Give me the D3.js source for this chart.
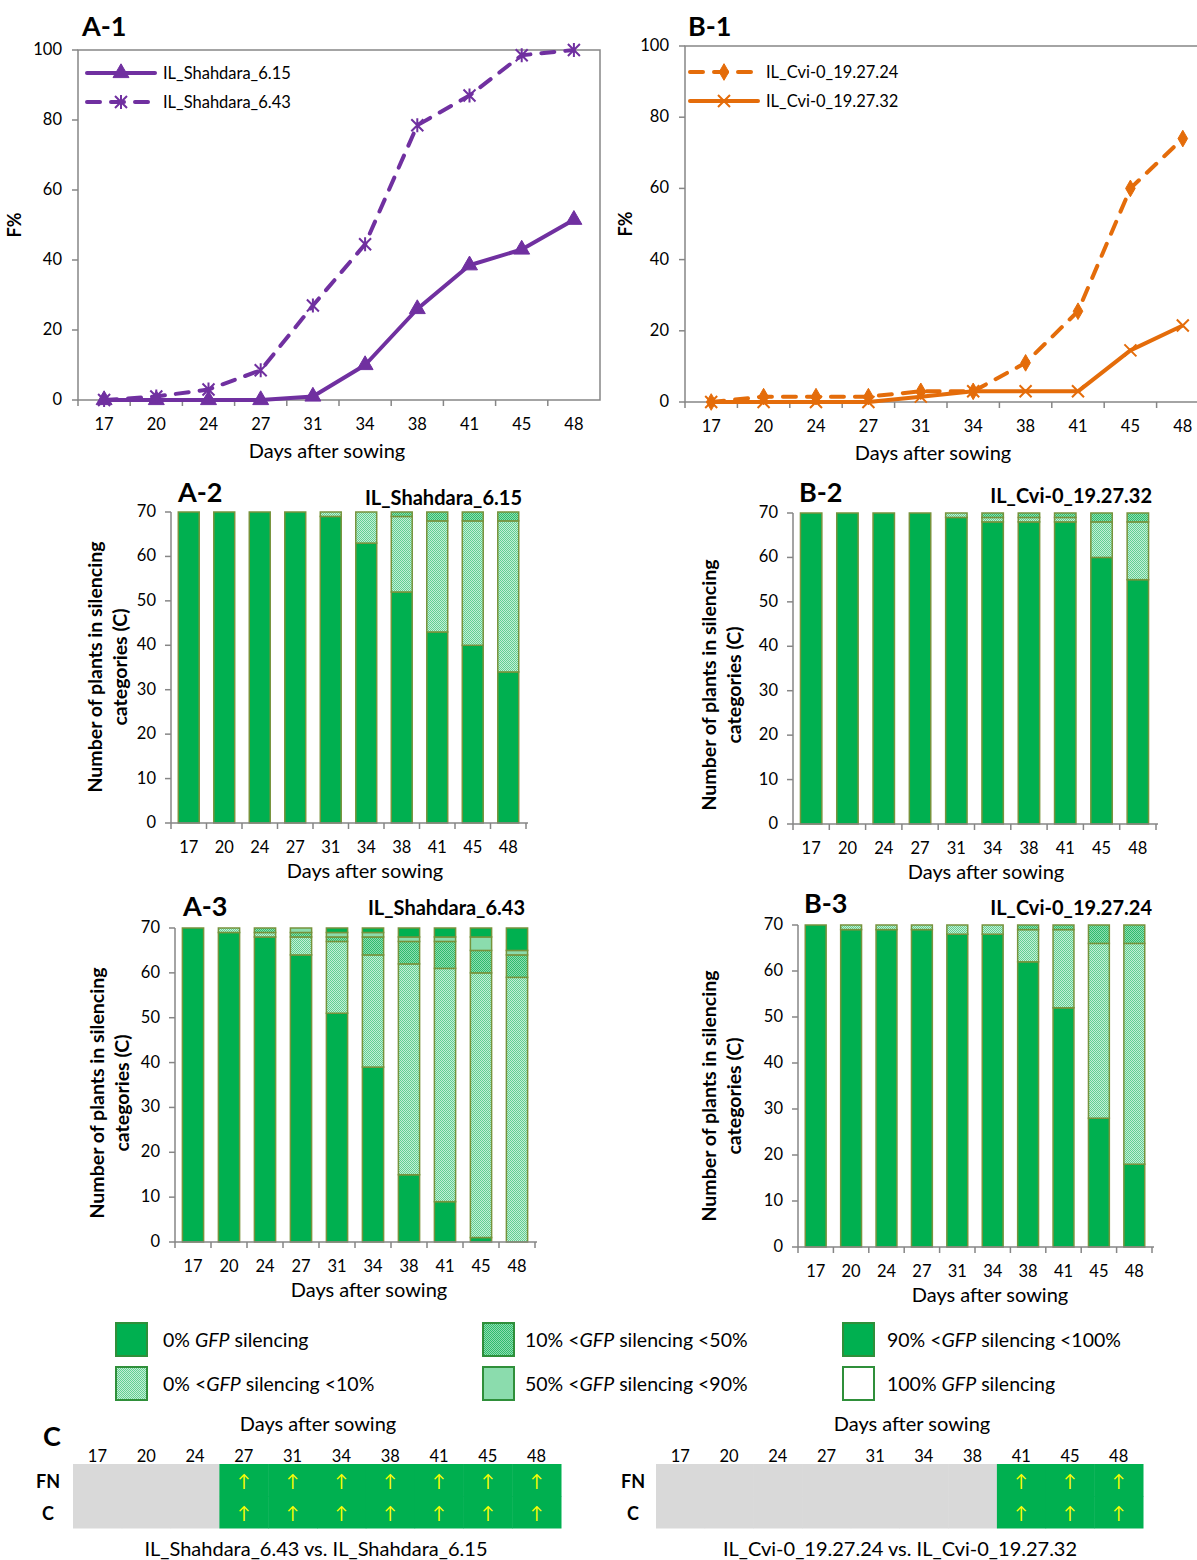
<!DOCTYPE html>
<html><head><meta charset="utf-8">
<script src="https://cdn.jsdelivr.net/npm/d3@7"></script>
<style>
body{margin:0;background:#fff}
svg{display:block}
text{font-family:Lato,'Open Sans',sans-serif;fill:#000}
</style>
</head><body>
<svg id="fig" width="1197" height="1560"></svg>
<script>
// ---- data ----
const days = ["17","20","24","27","31","34","38","41","45","48"];
const fTicks = [0,20,40,60,80,100];
const countTicks = [0,10,20,30,40,50,60,70];

// F% (frequency of silenced plants)
const fShahdara615 = [0,0,0,0,1,10,26,38.5,43,51.5];
const fShahdara643 = [0,1,3,8.5,27,44.5,78.5,87,98.5,100];
const fCvi2724 = [0,1.5,1.5,1.5,3,3,11,25.5,60,74];
const fCvi2732 = [0,0,0,0,1.5,3,3,3,14.5,21.5];

// silencing categories, bottom to top of each stacked bar
const silencingClasses = ["0%","0-10%","10-50%","50-90%","90-100%","100%"];

// plant counts per day: [0%, 0-10%, 10-50%, 50-90%, 90-100%, 100%]
const countsShahdara615 = [
  [70,0,0,0,0,0],[70,0,0,0,0,0],[70,0,0,0,0,0],[70,0,0,0,0,0],[69,1,0,0,0,0],
  [63,7,0,0,0,0],[52,17,1,0,0,0],[43,25,2,0,0,0],[40,28,2,0,0,0],[34,34,2,0,0,0]
];
const countsCvi2732 = [
  [70,0,0,0,0,0],[70,0,0,0,0,0],[70,0,0,0,0,0],[70,0,0,0,0,0],[69,1,0,0,0,0],
  [68,1,1,0,0,0],[68,1,1,0,0,0],[68,1,1,0,0,0],[60,8,2,0,0,0],[55,13,2,0,0,0]
];
const countsShahdara643 = [
  [70,0,0,0,0,0],[69,1,0,0,0,0],[68,1,1,0,0,0],[64,4,1,1,0,0],[51,16,1,1,1,0],
  [39,25,4,1,1,0],[15,47,5,1,2,0],[9,52,6,1,2,0],[1,59,5,3,2,0],[0,59,5,1,5,0]
];
const countsCvi2724 = [
  [70,0,0,0,0,0],[69,1,0,0,0,0],[69,1,0,0,0,0],[69,1,0,0,0,0],[68,2,0,0,0,0],
  [68,2,0,0,0,0],[62,7,1,0,0,0],[52,17,1,0,0,0],[28,38,4,0,0,0],[18,48,4,0,0,0]
];

// significant increase (1) of FN and C between line pairs
const sigShahdara = [0,0,0,1,1,1,1,1,1,1];
const sigCvi = [0,0,0,0,0,0,0,1,1,1];

// ---- drawing ----
const svg = d3.select("#fig");
const AXIS = "#868686";
const PURPLE = "#7030A0", ORANGE = "#E46C0A";
const GREEN = "#00B050";

const defs = svg.append("defs");
function checker(id, base, dot){
  const p = defs.append("pattern").attr("id", id).attr("patternUnits","userSpaceOnUse")
    .attr("width",2).attr("height",2);
  p.append("rect").attr("width",2).attr("height",2).attr("fill",base);
  p.append("rect").attr("width",1).attr("height",1).attr("fill",dot);
  p.append("rect").attr("x",1).attr("y",1).attr("width",1).attr("height",1).attr("fill",dot);
}
checker("p010", "#c4eed6", "#62cf92");
checker("p1050", "#8edcb0", "#2fbc6c");
const classFill = [GREEN, "url(#p010)", "url(#p1050)", "#8bdcad", GREEN, "#ffffff"];

function txt(g, x, y, s, o={}){
  return g.append("text").attr("x",x).attr("y",y).text(s)
    .attr("font-size", o.size||16.5).attr("font-weight", o.bold?"bold":null)
    .attr("text-anchor", o.anchor||"start");
}

const markers = {
  triangle: d3.symbol().type(d3.symbolTriangle).size(110)(),
  diamond: d3.symbol().type(d3.symbolDiamond).size(80)(),
  cross: "M-6,-6L6,6M-6,6L6,-6",
  star: "M-6,-6L6,6M-6,6L6,-6M0,-7L0,7"
};
function drawMarker(g, x, y, kind, color){
  const filled = kind === "triangle" || kind === "diamond";
  g.append("path").attr("d", markers[kind]).attr("transform",`translate(${x},${y})`)
    .attr("fill", filled ? color : "none").attr("stroke", color)
    .attr("stroke-width", filled ? 1 : 2);
}

function lineChart(c){
  const g = svg.append("g");
  const x = d3.scaleBand().domain(days).range([c.x0, c.x1]);
  const y = d3.scaleLinear().domain([0,100]).range([c.yBot, c.yTop]);
  g.append("rect").attr("x",c.x0).attr("y",c.yTop).attr("width",c.x1-c.x0).attr("height",c.yBot-c.yTop)
    .attr("fill","none").attr("stroke",AXIS).attr("stroke-width",1.5);
  fTicks.forEach(t=>{
    g.append("line").attr("x1",c.x0-6).attr("x2",c.x0).attr("y1",y(t)).attr("y2",y(t))
      .attr("stroke",AXIS).attr("stroke-width",1.5);
    txt(g, c.x0-16, y(t)+5, t, {anchor:"end"});
  });
  days.forEach((d,i)=>{
    const bx = x(d);
    g.append("line").attr("x1",bx).attr("x2",bx).attr("y1",c.yBot).attr("y2",c.yBot+6)
      .attr("stroke",AXIS).attr("stroke-width",1.5);
    txt(g, bx + x.bandwidth()/2, c.yBot+30, d, {anchor:"middle"});
  });
  txt(g, c.xTitle, c.yBot+58, "Days after sowing", {size:20, anchor:"middle"});
  txt(g, 0, 0, "F%", {size:18, bold:true, anchor:"middle"})
    .attr("transform",`translate(${c.yTitleX},${(c.yTop+c.yBot)/2}) rotate(-90)`);
  txt(g, c.labelX, c.labelY, c.label, {size:27, bold:true});

  const line = d3.line().x((v,i)=>x(days[i])+x.bandwidth()/2).y(v=>y(v));
  c.series.forEach((s,k)=>{
    g.append("path").attr("d", line(s.values)).attr("fill","none").attr("stroke", s.color)
      .attr("stroke-width",4).attr("stroke-linejoin","round")
      .attr("stroke-linecap", s.dash ? "round" : "butt")
      .attr("stroke-dasharray", s.dash ? "13,11" : null);
    s.values.forEach((v,i)=>drawMarker(g, x(days[i])+x.bandwidth()/2, y(v), s.marker, s.color));
    // legend entry
    const ly = c.legendY + k*29;
    g.append("line").attr("x1",c.legendX).attr("x2",c.legendX+68).attr("y1",ly).attr("y2",ly)
      .attr("stroke",s.color).attr("stroke-width",4)
      .attr("stroke-linecap", "round")
      .attr("stroke-dasharray", s.dash ? "13,11" : null);
    drawMarker(g, c.legendX+34, ly, s.marker, s.color);
    txt(g, c.legendX+76, ly+6, s.name, {size:16.5});
  });
}

lineChart({x0:78, x1:600, yTop:50, yBot:400, label:"A-1", labelX:82, labelY:36,
  xTitle:327, yTitleX:21, legendX:87, legendY:73,
  series:[
    {name:"IL_Shahdara_6.15", values:fShahdara615, color:PURPLE, dash:false, marker:"triangle"},
    {name:"IL_Shahdara_6.43", values:fShahdara643, color:PURPLE, dash:true, marker:"star"}
  ]});
lineChart({x0:685, x1:1209, yTop:46, yBot:402, label:"B-1", labelX:688, labelY:36,
  xTitle:933, yTitleX:632, legendX:690, legendY:72,
  series:[
    {name:"IL_Cvi-0_19.27.24", values:fCvi2724, color:ORANGE, dash:true, marker:"diamond"},
    {name:"IL_Cvi-0_19.27.32", values:fCvi2732, color:ORANGE, dash:false, marker:"cross"}
  ]});

function barChart(c){
  const g = svg.append("g");
  const x = d3.scaleBand().domain(days).range([c.x0, c.x1]).paddingInner(0.41).paddingOuter(0.205);
  const y = d3.scaleLinear().domain([0,70]).range([c.yBot, c.yTop]);
  const rows = days.map((d,i)=>{
    const o = {day:d};
    silencingClasses.forEach((k,j)=>o[k]=c.counts[i][j]);
    return o;
  });
  const stack = d3.stack().keys(silencingClasses)(rows);
  stack.forEach((layer,j)=>{
    g.selectAll(null).data(layer.filter(s=>s[1]-s[0]>0)).join("rect")
      .attr("x", s=>x(s.data.day)).attr("width", x.bandwidth())
      .attr("y", s=>y(s[1])).attr("height", s=>y(s[0])-y(s[1]))
      .attr("fill", classFill[j]).attr("stroke","#77933C").attr("stroke-width",1.5);
  });
  g.append("line").attr("x1",c.x0).attr("x2",c.x0).attr("y1",c.yTop).attr("y2",c.yBot)
    .attr("stroke",AXIS).attr("stroke-width",1.5);
  g.append("line").attr("x1",c.x0).attr("x2",c.x1+2).attr("y1",c.yBot).attr("y2",c.yBot)
    .attr("stroke",AXIS).attr("stroke-width",1.5);
  countTicks.forEach(t=>{
    g.append("line").attr("x1",c.x0-6).attr("x2",c.x0).attr("y1",y(t)).attr("y2",y(t))
      .attr("stroke",AXIS).attr("stroke-width",1.5);
    txt(g, c.x0-15, y(t)+5, t, {anchor:"end"});
  });
  const step = x.step();
  d3.range(days.length+1).forEach(i=>{
    const bx = c.x0 + i*step;
    g.append("line").attr("x1",bx).attr("x2",bx).attr("y1",c.yBot).attr("y2",c.yBot+6)
      .attr("stroke",AXIS).attr("stroke-width",1.5);
  });
  days.forEach(d=>txt(g, x(d)+x.bandwidth()/2, c.yBot+30, d, {anchor:"middle"}));
  txt(g, c.xTitle, c.yBot+55, "Days after sowing", {size:20, anchor:"middle"});
  const yt = g.append("g").attr("transform",`translate(${c.yTitleX},${c.yTitleY}) rotate(-90)`);
  txt(yt, 0, 0, "Number of plants in silencing", {size:19.5, bold:true, anchor:"middle"});
  txt(yt, 0, 25, "categories (C)", {size:19.5, bold:true, anchor:"middle"});
  txt(g, c.labelX, c.labelY, c.label, {size:27, bold:true});
  txt(g, c.nameX, c.nameY, c.name, {size:20, bold:true, anchor:"end"});
}

barChart({x0:171, x1:526, yTop:512, yBot:823, counts:countsShahdara615,
  label:"A-2", labelX:178, labelY:502, name:"IL_Shahdara_6.15", nameX:522, nameY:505,
  xTitle:365, yTitleX:102, yTitleY:667});
barChart({x0:793, x1:1156, yTop:513, yBot:824, counts:countsCvi2732,
  label:"B-2", labelX:799, labelY:502, name:"IL_Cvi-0_19.27.32", nameX:1152, nameY:503,
  xTitle:986, yTitleX:716, yTitleY:685});
barChart({x0:175, x1:535, yTop:928, yBot:1242, counts:countsShahdara643,
  label:"A-3", labelX:183, labelY:916, name:"IL_Shahdara_6.43", nameX:525, nameY:915,
  xTitle:369, yTitleX:104, yTitleY:1093});
barChart({x0:798, x1:1152, yTop:925, yBot:1247, counts:countsCvi2724,
  label:"B-3", labelX:804, labelY:913, name:"IL_Cvi-0_19.27.24", nameX:1152, nameY:915,
  xTitle:990, yTitleX:716, yTitleY:1096});

// ---- legend of silencing categories ----
const legendItems = [
  {cls:0, col:0, row:0, parts:["0% ", "GFP", " silencing"]},
  {cls:1, col:0, row:1, parts:["0% <", "GFP", " silencing <10%"]},
  {cls:2, col:1, row:0, parts:["10% <", "GFP", " silencing <50%"]},
  {cls:3, col:1, row:1, parts:["50% <", "GFP", " silencing <90%"]},
  {cls:4, col:2, row:0, parts:["90% <", "GFP", " silencing <100%"]},
  {cls:5, col:2, row:1, parts:["100% ", "GFP", " silencing"]}
];
const legCols = [116, 483, 843];
const legTextX = [163, 525, 887];
const legRows = [1323, 1367];
const lg = svg.append("g");
legendItems.forEach(it=>{
  const lx = legCols[it.col], ly = legRows[it.row];
  lg.append("rect").attr("x",lx).attr("y",ly).attr("width",31).attr("height",33)
    .attr("fill", classFill[it.cls]).attr("stroke","#2f8f3a").attr("stroke-width",2);
  const t = lg.append("text").attr("x", legTextX[it.col]).attr("y", ly+24).attr("font-size",19.5);
  it.parts.forEach((p,k)=>t.append("tspan").text(p).attr("font-style", k===1?"italic":null));
});

// ---- C: significance grid ----
function sigGrid(c){
  const g = svg.append("g");
  const x = d3.scaleBand().domain(days).range([c.x0, c.x1]);
  const rowsY = [1464, 1496];
  ["FN","C"].forEach((r,ri)=>{
    days.forEach((d,i)=>{
      g.append("rect").attr("x",x(d)).attr("y",rowsY[ri]).attr("width",x.bandwidth()+0.5).attr("height",32.5)
        .attr("fill", c.sig[i] ? GREEN : "#D9D9D9");
      if (c.sig[i]) {
        txt(g, x(d)+x.bandwidth()/2, rowsY[ri]+23, "↑", {size:17, anchor:"middle"})
          .style("fill","#FFFF00");
      }
    });
    txt(g, c.rowLabelX, rowsY[ri]+24, r, {size:18, bold:true, anchor:"middle"});
  });
  days.forEach(d=>txt(g, x(d)+x.bandwidth()/2, 1462, d, {anchor:"middle"}));
  txt(g, c.titleX, 1431, "Days after sowing", {size:20, anchor:"middle"});
  txt(g, c.nameX, 1556, c.name, {size:20, anchor:"middle"});
}
sigGrid({x0:73, x1:561, sig:sigShahdara, rowLabelX:48, titleX:318, nameX:316,
  name:"IL_Shahdara_6.43 vs. IL_Shahdara_6.15"});
sigGrid({x0:656, x1:1143, sig:sigCvi, rowLabelX:633, titleX:912, nameX:900,
  name:"IL_Cvi-0_19.27.24 vs. IL_Cvi-0_19.27.32"});
txt(svg, 43, 1446, "C", {size:27, bold:true});
</script>
</body></html>
